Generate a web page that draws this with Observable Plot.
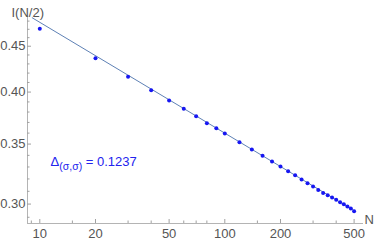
<!DOCTYPE html>
<html><head><meta charset="utf-8">
<script src="https://cdn.jsdelivr.net/npm/d3@7"></script>
<script src="https://cdn.jsdelivr.net/npm/@observablehq/plot@0.6"></script>
<style>body{margin:0;background:#fff} svg{display:block}</style>
</head><body><div id="chart"></div>
<script>
// ---- data ----
const N = [10,20,30,40,50,60,70,80,90,100,120,140,160,180,200,220,240,260,280,300,320,340,360,380,400,420,440,460,480,500];
const I = [0.4706,0.4363,0.4160,0.4019,0.3914,0.3832,0.3759,0.3692,0.3645,0.3596,0.3516,0.3451,0.3396,0.3346,0.3303,0.3264,0.3230,0.3195,0.3165,0.3138,0.3111,0.3087,0.3069,0.3051,0.3033,0.3014,0.2998,0.2981,0.2966,0.2945];
const fitN = [9.1, 500];
const fitI = [0.4841, 0.2950];
const xMajor = [10,20,50,100,200,500];
const xMinor = [9,15,30,40,60,70,80,150,300,400];
const yMajor = [0.30,0.35,0.40,0.45];
const yMinor = [0.29,0.31,0.32,0.33,0.34,0.36,0.37,0.38,0.39,0.41,0.42,0.43,0.44,0.46,0.47,0.48];
const xDomain = [8.58, 562];
const yDomain = [0.2854, 0.4857];
const yLabel = "I(N/2)";
const xLabel = "N";
const deltaValue = "0.1237";

const points = N.map((n,i)=>({N:n, I:I[i]}));
const fit = fitN.map((n,i)=>({N:n, I:fitI[i]}));

const W=374, H=241, mL=27, mR=11, mT=16, mB=18;
const pw = W-mL-mR, ph = H-mT-mB;
const axisGray = "#b4b4b4", tickGray = "#a0a0a0", textGray = "#555";

const chart = Plot.plot({
  width: W, height: H,
  marginLeft: mL, marginRight: mR, marginTop: mT, marginBottom: mB,
  style: {fontFamily: "'Liberation Sans', Arial, sans-serif", fontSize: "13px", background: "white", overflow: "visible"},
  x: {type: "log", domain: xDomain},
  y: {type: "log", domain: yDomain},
  marks: [
    Plot.ruleY([yDomain[0]], {stroke: axisGray}),
    Plot.ruleX([xDomain[0]], {stroke: axisGray}),
    Plot.tickX(xMajor, {x: d=>d, insetTop: ph-4, stroke: tickGray}),
    Plot.tickX(xMinor, {x: d=>d, insetTop: ph-2.5, stroke: tickGray}),
    Plot.tickY(yMajor, {y: d=>d, insetRight: pw-4, stroke: tickGray}),
    Plot.tickY(yMinor, {y: d=>d, insetRight: pw-2.5, stroke: tickGray}),
    Plot.axisX({ticks: xMajor, tickSize: 0, tickPadding: 5, tickFormat: d=>String(d), label: null, fill: textGray}),
    Plot.axisY({ticks: yMajor, tickSize: 0, tickPadding: 2, tickFormat: d3.format(".2f"), label: null, fill: textGray}),
    Plot.line(fit, {x: "N", y: "I", stroke: "#5E81B5", strokeWidth: 1}),
    Plot.dot(points, {x: "N", y: "I", r: 2, fill: "#1717f2"}),
    Plot.text([yLabel], {text: d=>d, frameAnchor: "top-left", dx: -16, dy: -9, textAnchor: "start", fill: textGray}),
    Plot.text([xLabel], {text: d=>d, frameAnchor: "bottom-right", dx: 1, textAnchor: "start", fill: textGray}),
    Plot.text(["Δ"], {text: d=>d, x: [11.44], y: [0.3342], textAnchor: "start", fill: "#2323ee"})
  ]
});
document.getElementById("chart").appendChild(chart);

// subscript formatting of the annotation
d3.select(chart).selectAll("text").filter(function(){ return this.textContent === "Δ"; }).each(function(){
  const t = d3.select(this);
  t.text(null);
  t.append("tspan").text("Δ");
  t.append("tspan").attr("dy", "4px").attr("font-size", "10.5px").text("(σ,σ)");
  t.append("tspan").attr("dy", "-4px").text(" = " + deltaValue);
});
</script>
</body></html>
